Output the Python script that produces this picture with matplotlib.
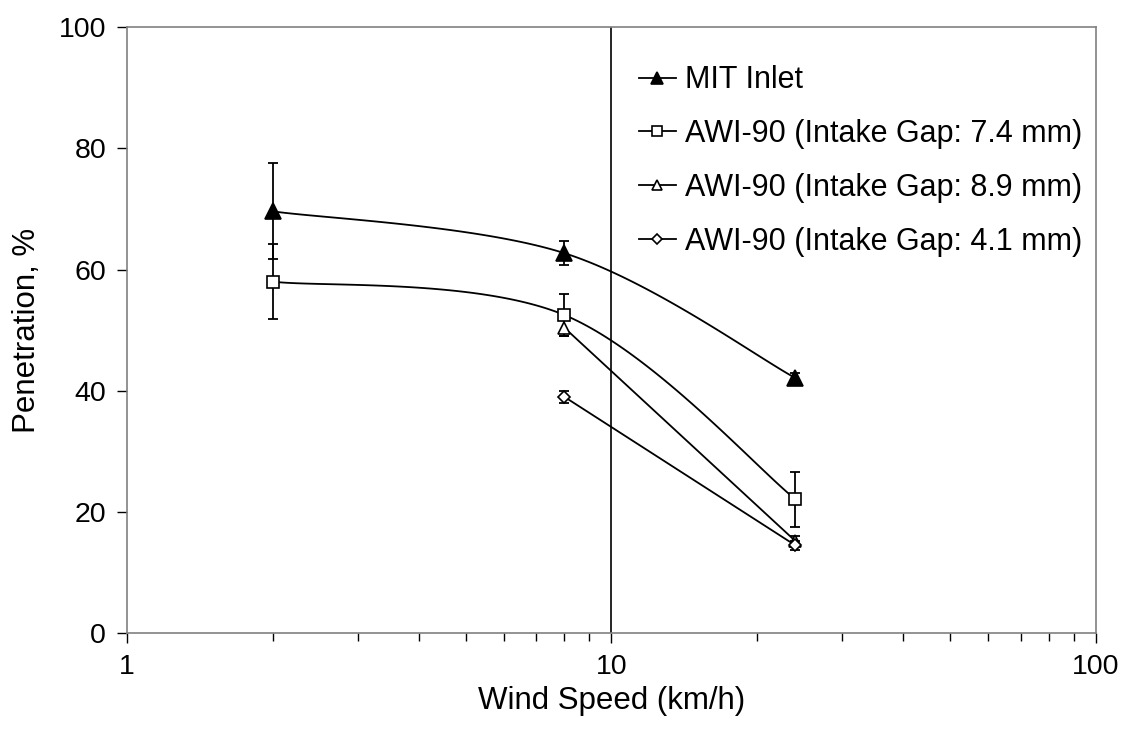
import numpy as np
import matplotlib.pyplot as plt
from matplotlib.lines import Line2D

plt.rcParams["font.family"] = ["Liberation Sans", "DejaVu Sans"]

# data
series_names = [
    "MIT Inlet",
    "AWI-90 (Intake Gap: 7.4 mm)",
    "AWI-90 (Intake Gap: 8.9 mm)",
    "AWI-90 (Intake Gap: 4.1 mm)",
]
mit_x = [2, 8, 24]
mit_y = [69.6, 62.7, 42.1]
mit_err = [7.9, 2.0, 0.9]

gap74_x = [2, 8, 24]
gap74_y = [58.0, 52.5, 22.1]
gap74_err = [6.2, 3.4, 4.5]

gap89_x = [8, 24]
gap89_y = [50.4, 15.2]
gap89_err = [1.4, 0.8]

gap41_x = [8, 24]
gap41_y = [39.0, 14.5]
gap41_err = [1.0, 0.8]

x_ticks = [1, 10, 100]
y_ticks = [0, 20, 40, 60, 80, 100]

markers = ["^", "s", "^", "D"]
faces = ["black", "white", "white", "white"]
msizes = [11, 9, 9, 6.5]


def smooth_curve(ax, xs, ys, n=60):
    # Excel-like smoothing: cubic bezier with Catmull-Rom tangents in display space
    pts = ax.transData.transform(np.column_stack([xs, ys]))
    if len(pts) < 3:
        return np.asarray(xs, float), np.asarray(ys, float)
    out = []
    m = len(pts)
    for i in range(m - 1):
        p0 = pts[max(i - 1, 0)]
        p1 = pts[i]
        p2 = pts[i + 1]
        p3 = pts[min(i + 2, m - 1)]
        c1 = p1 + (p2 - p0) / 6.0
        c2 = p2 - (p3 - p1) / 6.0
        t = np.linspace(0, 1, n)[:, None]
        seg = ((1 - t) ** 3) * p1 + 3 * ((1 - t) ** 2) * t * c1 + 3 * (1 - t) * t ** 2 * c2 + t ** 3 * p2
        if i > 0:
            seg = seg[1:]
        out.append(seg)
    out = np.vstack(out)
    data = ax.transData.inverted().transform(out)
    return data[:, 0], data[:, 1]


fig = plt.figure(figsize=(11.24, 7.32), dpi=100)
ax = fig.add_axes([0.113, 0.1348, 0.8618, 0.8283])
ax.set_xscale("log")
ax.set_xlim(1, 100)
ax.set_ylim(0, 100)

for side in ["left", "right", "top", "bottom"]:
    ax.spines[side].set_color("#808080")
    ax.spines[side].set_linewidth(1.2)

ax.axvline(10, color="black", linewidth=1.2, zorder=1)

all_x = [mit_x, gap74_x, gap89_x, gap41_x]
all_y = [mit_y, gap74_y, gap89_y, gap41_y]
all_err = [mit_err, gap74_err, gap89_err, gap41_err]

handles = []
for i in range(4):
    sx, sy = smooth_curve(ax, all_x[i], all_y[i])
    ax.plot(sx, sy, color="black", linewidth=1.3, zorder=2)
    ax.errorbar(all_x[i], all_y[i], yerr=all_err[i], fmt="none", ecolor="black",
                elinewidth=1.3, capsize=3.8, capthick=1.3, zorder=3)
    ax.plot(all_x[i], all_y[i], linestyle="none", marker=markers[i], markersize=msizes[i],
            markerfacecolor=faces[i], markeredgecolor="black", markeredgewidth=1.2, zorder=4)
    handles.append(Line2D([0], [0], color="black", linewidth=1.3, marker=markers[i],
                          markersize=msizes[i] * 0.85, markerfacecolor=faces[i],
                          markeredgecolor="black", markeredgewidth=1.2))

ax.set_xticks(x_ticks)
ax.set_xticklabels([str(v) for v in x_ticks])
ax.set_yticks(y_ticks)
ax.tick_params(axis="both", which="major", direction="out", length=7, width=1,
               labelsize=20.5, colors="black", pad=8)
ax.tick_params(axis="x", which="minor", direction="out", length=6, width=1)

ax.set_xlabel("Wind Speed (km/h)", fontsize=22.5, labelpad=4)
ax.set_ylabel("Penetration, %", fontsize=22.5, labelpad=12)

ax.legend(handles, series_names, loc="upper left", bbox_to_anchor=(0.516, 0.957),
          frameon=False, fontsize=22, handlelength=1.2, handletextpad=0.3,
          labelspacing=0.78, borderaxespad=0)

fig.savefig("out.png", dpi=100)
